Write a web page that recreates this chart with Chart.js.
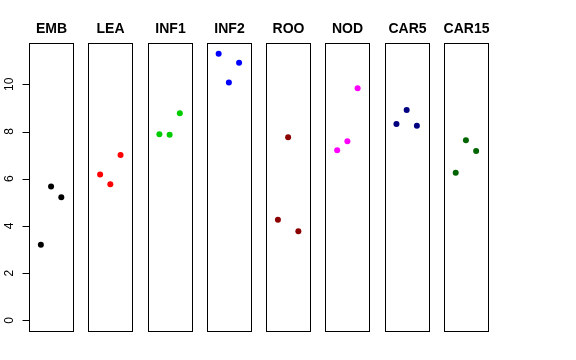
<!DOCTYPE html>
<html>
<head>
<meta charset="utf-8">
<script src="https://cdn.jsdelivr.net/npm/chart.js@4/dist/chart.umd.min.js"></script>
<style>
  html, body { margin: 0; padding: 0; background: #fff; }
  canvas { display: block; }
</style>
</head>
<body>
<canvas id="stripChart" width="576" height="360"></canvas>
<script>
// data
const categories = ["EMB", "LEA", "INF1", "INF2", "ROO", "NOD", "CAR5", "CAR15"];
const rep1 = [3.20, 6.18, 7.88, 11.29, 4.26, 7.21, 8.32, 6.25];
const rep2 = [5.67, 5.77, 7.86, 10.08, 7.76, 7.59, 8.91, 7.63];
const rep3 = [5.22, 7.01, 8.77, 10.91, 3.78, 9.83, 8.24, 7.17];
const pointColors = ["#000000", "#FF0000", "#00CD00", "#0000FF", "#8B0000", "#FF00FF", "#000080", "#006400"];
const yTicks = [0, 2, 4, 6, 8, 10];

// panel layout (in x-scale units): each panel holds x = 1..3, xlim 0..4 extended 4%
const PANEL_STEP = 5.8;
const PANEL_MIN = -0.16;
const PANEL_MAX = 4.16;
const Y_MIN = -0.45;
const Y_MAX = 11.75;

const datasets = categories.map((cat, i) => ({
  label: cat,
  data: [rep1[i], rep2[i], rep3[i]].map((v, j) => ({ x: i * PANEL_STEP + j + 1, y: v })),
  pointRadius: 3,
  pointBorderWidth: 0,
  pointBackgroundColor: pointColors[i],
  pointHoverRadius: 3,
  showLine: false,
}));

// panel frames, titles and the left axis (R style)
const panelPlugin = {
  id: "panels",
  afterDatasetsDraw: (chart) => {
    const { ctx, scales: { x, y } } = chart;
    const top = Math.round(y.getPixelForValue(Y_MAX)) + 0.5;
    const bottom = Math.round(y.getPixelForValue(Y_MIN)) + 0.5;

    ctx.save();
    ctx.strokeStyle = "#000";
    ctx.lineWidth = 1;
    categories.forEach((cat, i) => {
      const l = Math.round(x.getPixelForValue(i * PANEL_STEP + PANEL_MIN)) + 0.5;
      const r = Math.round(x.getPixelForValue(i * PANEL_STEP + PANEL_MAX)) + 0.5;
      ctx.strokeRect(l, top, r - l, bottom - top);

      ctx.fillStyle = "#000";
      ctx.font = "bold 14px 'Liberation Sans', Arial, sans-serif";
      ctx.textAlign = "center";
      ctx.textBaseline = "alphabetic";
      ctx.fillText(cat, (l + r) / 2, 33);
    });

    // y axis
    const axisX = Math.round(x.getPixelForValue(PANEL_MIN)) + 0.5;
    ctx.beginPath();
    ctx.moveTo(axisX, Math.round(y.getPixelForValue(yTicks[0])) + 0.5);
    ctx.lineTo(axisX, Math.round(y.getPixelForValue(yTicks[yTicks.length - 1])) + 0.5);
    yTicks.forEach((t) => {
      const py = Math.round(y.getPixelForValue(t)) + 0.5;
      ctx.moveTo(axisX - 7, py);
      ctx.lineTo(axisX, py);
    });
    ctx.stroke();

    ctx.font = "12px 'Liberation Sans', Arial, sans-serif";
    ctx.textAlign = "center";
    ctx.textBaseline = "alphabetic";
    yTicks.forEach((t) => {
      const py = y.getPixelForValue(t);
      ctx.save();
      ctx.translate(axisX - 16.5, py);
      ctx.rotate(-Math.PI / 2);
      ctx.fillText(String(t), 0, 0);
      ctx.restore();
    });
    ctx.restore();
  },
};

new Chart(document.getElementById("stripChart"), {
  type: "scatter",
  data: { datasets: datasets },
  plugins: [panelPlugin],
  options: {
    responsive: false,
    animation: false,
    layout: { padding: { left: 29, top: 43, right: 88, bottom: 29 } },
    plugins: { legend: { display: false }, tooltip: { enabled: false } },
    scales: {
      x: {
        display: false,
        min: PANEL_MIN,
        max: (categories.length - 1) * PANEL_STEP + PANEL_MAX,
      },
      y: { display: false, min: Y_MIN, max: Y_MAX },
    },
  },
});
</script>
</body>
</html>
